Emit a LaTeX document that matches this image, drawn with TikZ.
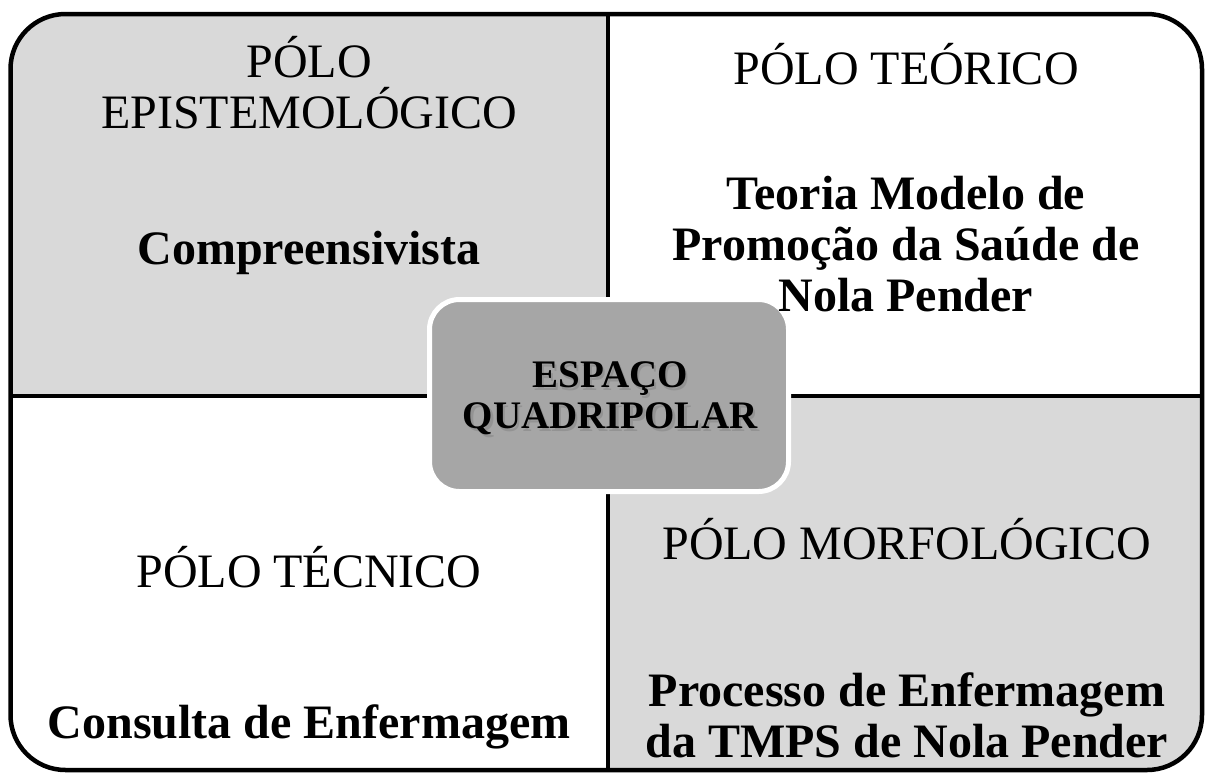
\documentclass[tikz,border=0pt]{standalone}
\usepackage{fontspec}
\setmainfont{Liberation Serif}
\definecolor{lightq}{RGB}{217,217,217}
\definecolor{centerq}{RGB}{166,166,166}
\begin{document}
\begin{tikzpicture}[x=1pt,y=-1pt,
  title/.style={font=\fontsize{48}{51}\selectfont, align=center, anchor=base, inner sep=0pt},
  body/.style={font=\fontsize{48}{51}\selectfont\bfseries, align=center, anchor=base, inner sep=0pt},
  ctext/.style={font=\fontsize{39}{41}\selectfont\bfseries, align=center, anchor=base, inner sep=0pt},
  divider/.style={line width=4.5pt},
  frame/.style={line width=4.5pt, rounded corners=55pt}]
\useasboundingbox (0,0) rectangle (1206,774);
\begin{scope}
  \clip[rounded corners=55pt] (10.5,14) rectangle (1202,770);
  \fill[lightq] (0,0) rectangle (608,396);
  \fill[lightq] (608,396) rectangle (1206,774);
\end{scope}
\draw[divider] (608,14) -- (608,770);
\draw[divider] (10.5,396) -- (1202,396);
\draw[frame] (10.5,14) rectangle (1202,770);

\node[draw=white, line width=5pt, fill=centerq, rounded corners=30pt,
      minimum width=359pt, minimum height=192pt, inner sep=0pt] (center) at (609,395.5) {};

% base anchor of a multi-line node = baseline of its last line
\node[title] (tlT) at (309,128) {PÓLO\\EPISTEMOLÓGICO};
\node[body]  (tlB) at (309,264) {Compreensivista};
\node[title] (trT) at (906,84) {PÓLO TEÓRICO};
\node[body]  (trB) at (906,311) {Teoria Modelo de\\Promoção da Saúde de\\Nola Pender};
\node[title] (blT) at (309,587) {PÓLO TÉCNICO};
\node[body]  (blB) at (309,738) {Consulta de Enfermagem};
\node[title] (brT) at (907,559) {PÓLO MORFOLÓGICO};
\node[body]  (brB) at (907,757) {Processo de Enfermagem\\da TMPS de Nola Pender};

\node[ctext, text=black!45, opacity=0.7] (cshadow) at (612.5,431) {ESPAÇO\\QUADRIPOLAR};
\node[ctext] (ctxt) at (610,428) {ESPAÇO\\QUADRIPOLAR};
\end{tikzpicture}
\end{document}
